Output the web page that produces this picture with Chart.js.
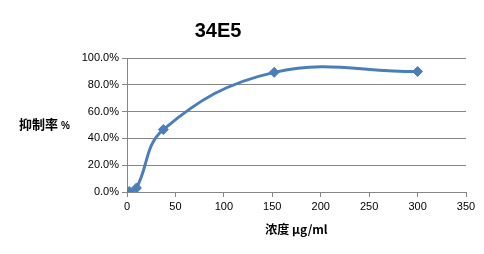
<!DOCTYPE html>
<html><head><meta charset="utf-8">
<script src="https://cdn.jsdelivr.net/npm/chart.js@4/dist/chart.umd.min.js"></script>
<style>html,body{margin:0;padding:0;background:#fff}#wrap{width:484px;height:254px}</style>
</head><body><div id="wrap"><canvas id="c" width="484" height="254"></canvas></div>
<script>
const chartTitle = "34E5";
const xTitle = "浓度 μg/ml";
const yTitleMain = "抑制率";
const yTitleUnit = "%";
const concentrations = [2.3, 9.8, 37.5, 152, 300];
const inhibition = [0.4, 3.0, 46.6, 89.3, 89.9];
const yTicks = [0, 20, 40, 60, 80, 100];
const xTicks = [0, 50, 100, 150, 200, 250, 300, 350];

const textPlugin = {
  id: 'texts',
  afterDraw(chart) {
    const ctx = chart.ctx;
    ctx.save();
    ctx.fillStyle = '#000';
    ctx.textBaseline = 'alphabetic';
    ctx.textAlign = 'center';
    ctx.font = 'bold 20px "Liberation Sans", Arial, sans-serif';
    ctx.fillText(chartTitle, 218, 37);
    ctx.textAlign = 'left';
    ctx.font = 'bold 13px "Noto Sans CJK SC", sans-serif';
    ctx.fillText(yTitleMain, 19, 129);
    const w = ctx.measureText(yTitleMain).width;
    ctx.font = 'bold 10px "Liberation Sans", Arial, sans-serif';
    ctx.fillText(yTitleUnit, 19 + w + 3, 129);
    ctx.restore();
  }
};

new Chart(document.getElementById('c'), {
  type: 'line',
  data: {
    datasets: [{
      data: concentrations.map((x, i) => ({x: x, y: inhibition[i]})),
      borderColor: '#4A7EBB',
      backgroundColor: '#4A7EBB',
      borderWidth: 3,
      pointStyle: 'rectRot',
      pointRadius: 5,
      pointBorderWidth: 1,
      tension: 0.4,
      fill: false
    }]
  },
  options: {
    responsive: false,
    animation: false,
    devicePixelRatio: 1,
    layout: {padding: {top: 58, right: 18, left: 0, bottom: 0}},
    plugins: {legend: {display: false}, tooltip: {enabled: false}, title: {display: false}},
    scales: {
      x: {
        type: 'linear', min: 0, max: 350,
        afterBuildTicks(s) { s.ticks = xTicks.map(v => ({value: v})); },
        afterFit(s) { s.height = 62; },
        grid: {drawOnChartArea: false, drawTicks: true, tickLength: 5, color: '#868686'},
        border: {color: '#868686', width: 1},
        ticks: {color: '#000', font: {size: 11, family: '"Liberation Sans", Arial, sans-serif'}, padding: 3, maxRotation: 0},
        title: {display: true, text: xTitle, color: '#000', font: {size: 12, weight: 'bold', family: '"Noto Sans CJK SC", sans-serif'}, padding: {top: 4, bottom: 17}}
      },
      y: {
        min: 0, max: 100,
        afterBuildTicks(s) { s.ticks = yTicks.map(v => ({value: v})); },
        afterFit(s) { s.width = 127; },
        grid: {color: '#868686', tickLength: 5, drawTicks: true},
        border: {color: '#868686', width: 1},
        ticks: {color: '#000', font: {size: 11, family: '"Liberation Sans", Arial, sans-serif'}, padding: 3,
          callback: v => v.toFixed(1) + '%'}
      }
    }
  },
  plugins: [textPlugin]
});
</script>
</body></html>
